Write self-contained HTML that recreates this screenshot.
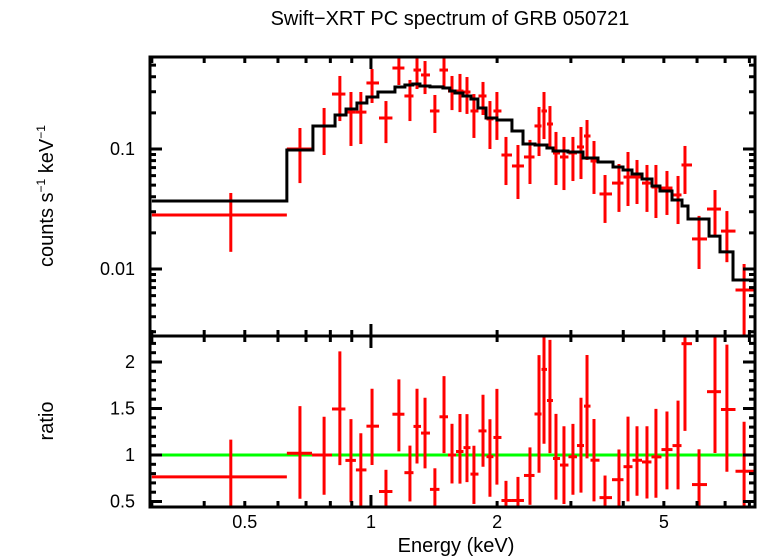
<!DOCTYPE html>
<html><head><meta charset="utf-8"><style>
html,body{margin:0;padding:0;background:#fff;}
svg{display:block;font-family:"Liberation Sans",sans-serif;}
</style></head><body>
<svg id="chart" width="758" height="556" viewBox="0 0 758 556" xmlns="http://www.w3.org/2000/svg">
<text x="450" y="25" font-size="20" text-anchor="middle">Swift−XRT PC spectrum of GRB 050721</text>
<text transform="translate(53,196) rotate(-90)" font-size="20" text-anchor="middle">counts s<tspan font-size="12" dy="-8">−1</tspan><tspan dy="8"> keV</tspan><tspan font-size="12" dy="-8">−1</tspan></text>
<text transform="translate(53,421) rotate(-90)" font-size="20" text-anchor="middle">ratio</text>
<text x="456" y="552" font-size="20" text-anchor="middle">Energy (keV)</text>
<g id="g"></g>
</svg>
<script>
// Data (energies in keV)
const dataE = [0.463,0.677,0.773,0.843,0.896,0.946,1.006,1.086,1.166,1.239,1.288,1.346,1.421,1.494,1.561,1.631,1.695,1.761,1.851,1.923,1.998,2.100,2.243,2.396,2.518,2.588,2.674,2.764,2.888,3.034,3.171,3.278,3.406,3.619,3.907,4.106,4.314,4.557,4.787,5.086,5.405,5.615,6.066,6.622,7.07,7.77];
const dataV = [0.0282,0.100,0.1556,0.287,0.203,0.203,0.355,0.1813,0.473,0.2766,0.455,0.414,0.2074,0.455,0.304,0.304,0.2985,0.2074,0.2766,0.178,0.2074,0.0891,0.0722,0.0858,0.1556,0.2074,0.1616,0.0926,0.0858,0.0926,0.104,0.1283,0.0794,0.0422,0.052,0.0584,0.0584,0.052,0.0482,0.0473,0.0414,0.0736,0.0178,0.0316,0.0207,0.00668];
const dataHi = [0.043,0.1496,0.2197,0.406,0.2985,0.2985,0.464,0.251,0.596,0.376,0.596,0.541,0.282,0.596,0.406,0.422,0.398,0.287,0.362,0.251,0.2985,0.126,0.108,0.119,0.224,0.2985,0.228,0.1387,0.126,0.126,0.1525,0.1745,0.1166,0.0607,0.075,0.0944,0.081,0.0736,0.0736,0.0656,0.0596,0.106,0.0277,0.0455,0.0304,0.011];
const dataLo = [0.0139,0.052,0.0891,0.171,0.106,0.110,0.2418,0.112,0.3415,0.171,0.316,0.287,0.136,0.3288,0.211,0.203,0.196,0.1236,0.192,0.100,0.119,0.0501,0.0383,0.0511,0.0874,0.121,0.104,0.0501,0.0455,0.0541,0.0562,0.081,0.0422,0.0242,0.0299,0.0335,0.0348,0.0299,0.0266,0.0282,0.0237,0.0422,0.010,0.0192,0.0114,0.0027];
const firstEdges = [0.3,0.63];
const lastEdge = 8.34;
// Model step
const modelEdges = [0.3,0.63,0.727,0.821,0.872,0.926,0.978,1.039,1.141,1.205,1.259,1.309,1.383,1.485,1.543,1.587,1.658,1.732,1.800,1.882,1.998,2.170,2.306,2.463,2.630,2.719,2.952,3.206,3.482,3.781,3.995,4.197,4.435,4.685,4.894,5.229,5.524,5.709,6.409,6.807,7.311,8.34];
const modelV = [0.0369,0.0981,0.1556,0.192,0.2155,0.2418,0.271,0.2985,0.3288,0.3415,0.348,0.335,0.329,0.3225,0.304,0.293,0.2766,0.261,0.2197,0.1813,0.1745,0.1413,0.110,0.108,0.1019,0.0962,0.0944,0.0841,0.0779,0.0708,0.0668,0.0619,0.0562,0.0492,0.0447,0.0376,0.0335,0.0261,0.0188,0.0139,0.0081];
const xMajorLabels = [0.5,1,2,5];
const xMinorTicks = [0.3,0.4,0.5,0.6,0.7,0.8,0.9,2,3,4,5,6,7,8];
const xMajorTicks = [1];
const yTopLabels = [0.01,0.1];
const yTopMinor = [0.003,0.004,0.005,0.006,0.007,0.008,0.009,0.02,0.03,0.04,0.05,0.06,0.07,0.08,0.09,0.2,0.3,0.4,0.5];
const yRatioLabels = [0.5,1,1.5,2];
const yRatioMinor = [0.5,0.6,0.7,0.8,0.9,1.1,1.2,1.3,1.4,1.6,1.7,1.8,1.9,2.1,2.2];

const X0=150,X1=755, E0=0.297, E1=8.25;
const T0=57,T1=336, B0=336,B1=507;
const xs = e => X0 + (Math.log10(e)-Math.log10(E0))/(Math.log10(E1)-Math.log10(E0))*(X1-X0);
const yTop = v => 149 - (Math.log10(v)+1)*120;
const yRat = r => 455 - (r-1)*93;
const NS="http://www.w3.org/2000/svg";
const g=document.getElementById('g');
function mk(tag,attrs,name,parent){const el=document.createElementNS(NS,tag);for(const k in attrs)el.setAttribute(k,attrs[k]);


(parent||g).appendChild(el);return el;}
function line(x1,y1,x2,y2,c,w,name,p){return mk('line',{x1,y1,x2,y2,stroke:c,'stroke-width':w},name,p);}

const edges=[...firstEdges];
for(let i=1;i<dataE.length-1;i++) edges.push(Math.sqrt(dataE[i]*dataE[i+1]));
edges.push(lastEdge);
function modelAt(e){for(let i=0;i<modelV.length;i++){if(e>=modelEdges[i]&&e<modelEdges[i+1])return modelV[i];}return modelV[modelV.length-1];}

const defs=mk('defs',{},'defs');
const cp1=mk('clipPath',{id:'ct'},'clip-top',defs); mk('rect',{x:X0,y:T0,width:X1-X0,height:T1-T0},'clip-rect-top',cp1);
const cp2=mk('clipPath',{id:'cb'},'clip-bottom',defs); mk('rect',{x:X0,y:B0,width:X1-X0,height:B1-B0},'clip-rect-bottom',cp2);
const gt=mk('g',{'clip-path':'url(#ct)'},'top-panel-plot');
const gb=mk('g',{'clip-path':'url(#cb)'},'ratio-panel-plot');

for(let i=0;i<dataE.length;i++){
  const x=xs(dataE[i]);
  line(xs(edges[i]),yTop(dataV[i]),xs(edges[i+1]),yTop(dataV[i]),'#ff0000',3,'data-point-bin',gt);
  line(x,yTop(dataHi[i]),x,yTop(dataLo[i]),'#ff0000',3,'data-point-error',gt);
}
let d='';
for(let i=0;i<modelV.length;i++){const y=yTop(modelV[i]);d+=(i?'L':'M')+xs(modelEdges[i])+','+y+'L'+xs(modelEdges[i+1])+','+y;}
mk('path',{d,fill:'none',stroke:'#000','stroke-width':3},'model-line',gt);

line(X0,yRat(1),X1,yRat(1),'#00ff00',3,'unity-line',gb);
for(let i=0;i<dataE.length;i++){
  const m=modelAt(dataE[i]);const x=xs(dataE[i]);const r=dataV[i]/m;
  line(xs(edges[i]),yRat(r),xs(edges[i+1]),yRat(r),'#ff0000',3,'ratio-point-bin',gb);
  line(x,yRat(dataHi[i]/m),x,yRat(dataLo[i]/m),'#ff0000',3,'ratio-point-error',gb);
}

mk('rect',{x:X0,y:T0,width:X1-X0,height:T1-T0,fill:'none',stroke:'#000','stroke-width':3},'top-panel-frame');
mk('rect',{x:X0,y:B0,width:X1-X0,height:B1-B0,fill:'none',stroke:'#000','stroke-width':3},'ratio-panel-frame');

for(const [top,bot] of [[T0,T1],[B0,B1]]){
  xMinorTicks.forEach(e=>{const x=xs(e);line(x,top,x,top+6,'#000',3,'x-minor-tick');line(x,bot,x,bot-6,'#000',3,'x-minor-tick');});
  xMajorTicks.forEach(e=>{const x=xs(e);line(x,top,x,top+12,'#000',3,'x-major-tick');line(x,bot,x,bot-12,'#000',3,'x-major-tick');});
}
xMajorLabels.forEach(e=>{const t=mk('text',{x:xs(e),y:528,'font-size':18,'text-anchor':'middle'},'x-tick-label');t.textContent=String(e);});
yTopMinor.forEach(v=>{const y=yTop(v);line(X0,y,X0+6,y,'#000',3,'y-minor-tick');line(X1,y,X1-6,y,'#000',3,'y-minor-tick');});
yTopLabels.forEach(v=>{const y=yTop(v);line(X0,y,X0+12,y,'#000',3,'y-major-tick');line(X1,y,X1-12,y,'#000',3,'y-major-tick');
  const t=mk('text',{x:135,y:y+6,'font-size':18,'text-anchor':'end'},'y-tick-label');t.textContent=String(v);});
yRatioMinor.forEach(v=>{const y=yRat(v);line(X0,y,X0+6,y,'#000',3,'ratio-minor-tick');line(X1,y,X1-6,y,'#000',3,'ratio-minor-tick');});
yRatioLabels.forEach(v=>{const y=yRat(v);line(X0,y,X0+12,y,'#000',3,'ratio-major-tick');line(X1,y,X1-12,y,'#000',3,'ratio-major-tick');
  const t=mk('text',{x:135,y:y+6,'font-size':18,'text-anchor':'end'},'ratio-tick-label');t.textContent=String(v);});
</script>
</body></html>
